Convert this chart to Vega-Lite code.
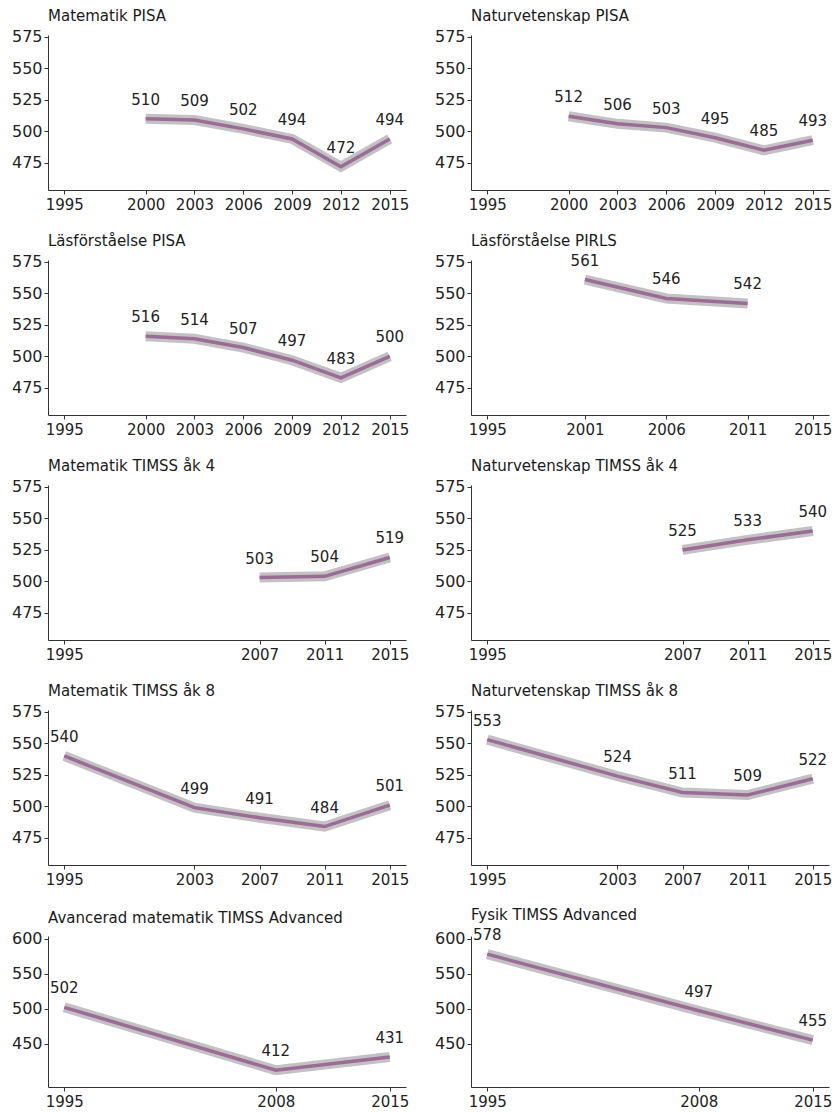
{
  "$schema": "https://vega.github.io/schema/vega-lite/v6.json",
  "padding": {"left": 11, "top": 8, "right": 4, "bottom": 2},
  "spacing": 21,
  "config": {
    "view": {"stroke": null},
    "font": "DejaVu Sans",
    "concat": {"spacing": 24},
    "axis": {"grid": false, "domainColor": "#333333", "tickColor": "#333333", "labelColor": "#222222", "labelFontSize": 15, "tickSize": 4, "title": null},
    "axisY": {"labelFontSize": 16, "labelPadding": 2},
    "axisX": {"labelPadding": 3},
    "title": {"anchor": "start", "frame": "group", "fontSize": 15, "fontWeight": "normal", "color": "#1a1a1a", "offset": 5, "baseline": "alphabetic"}
  },
  "datasets": {
    "scores": [
      {"panel": "Matematik PISA", "year": 2000, "score": 510},
      {"panel": "Matematik PISA", "year": 2003, "score": 509},
      {"panel": "Matematik PISA", "year": 2006, "score": 502},
      {"panel": "Matematik PISA", "year": 2009, "score": 494},
      {"panel": "Matematik PISA", "year": 2012, "score": 472},
      {"panel": "Matematik PISA", "year": 2015, "score": 494},
      {"panel": "Naturvetenskap PISA", "year": 2000, "score": 512},
      {"panel": "Naturvetenskap PISA", "year": 2003, "score": 506},
      {"panel": "Naturvetenskap PISA", "year": 2006, "score": 503},
      {"panel": "Naturvetenskap PISA", "year": 2009, "score": 495},
      {"panel": "Naturvetenskap PISA", "year": 2012, "score": 485},
      {"panel": "Naturvetenskap PISA", "year": 2015, "score": 493},
      {"panel": "Läsförståelse PISA", "year": 2000, "score": 516},
      {"panel": "Läsförståelse PISA", "year": 2003, "score": 514},
      {"panel": "Läsförståelse PISA", "year": 2006, "score": 507},
      {"panel": "Läsförståelse PISA", "year": 2009, "score": 497},
      {"panel": "Läsförståelse PISA", "year": 2012, "score": 483},
      {"panel": "Läsförståelse PISA", "year": 2015, "score": 500},
      {"panel": "Läsförståelse PIRLS", "year": 2001, "score": 561},
      {"panel": "Läsförståelse PIRLS", "year": 2006, "score": 546},
      {"panel": "Läsförståelse PIRLS", "year": 2011, "score": 542},
      {"panel": "Matematik TIMSS åk 4", "year": 2007, "score": 503},
      {"panel": "Matematik TIMSS åk 4", "year": 2011, "score": 504},
      {"panel": "Matematik TIMSS åk 4", "year": 2015, "score": 519},
      {"panel": "Naturvetenskap TIMSS åk 4", "year": 2007, "score": 525},
      {"panel": "Naturvetenskap TIMSS åk 4", "year": 2011, "score": 533},
      {"panel": "Naturvetenskap TIMSS åk 4", "year": 2015, "score": 540},
      {"panel": "Matematik TIMSS åk 8", "year": 1995, "score": 540},
      {"panel": "Matematik TIMSS åk 8", "year": 2003, "score": 499},
      {"panel": "Matematik TIMSS åk 8", "year": 2007, "score": 491},
      {"panel": "Matematik TIMSS åk 8", "year": 2011, "score": 484},
      {"panel": "Matematik TIMSS åk 8", "year": 2015, "score": 501},
      {"panel": "Naturvetenskap TIMSS åk 8", "year": 1995, "score": 553},
      {"panel": "Naturvetenskap TIMSS åk 8", "year": 2003, "score": 524},
      {"panel": "Naturvetenskap TIMSS åk 8", "year": 2007, "score": 511},
      {"panel": "Naturvetenskap TIMSS åk 8", "year": 2011, "score": 509},
      {"panel": "Naturvetenskap TIMSS åk 8", "year": 2015, "score": 522},
      {"panel": "Avancerad matematik TIMSS Advanced", "year": 1995, "score": 502},
      {"panel": "Avancerad matematik TIMSS Advanced", "year": 2008, "score": 412},
      {"panel": "Avancerad matematik TIMSS Advanced", "year": 2015, "score": 431},
      {"panel": "Fysik TIMSS Advanced", "year": 1995, "score": 578},
      {"panel": "Fysik TIMSS Advanced", "year": 2008, "score": 497},
      {"panel": "Fysik TIMSS Advanced", "year": 2015, "score": 455}
    ]
  },
  "vconcat": [
    {"hconcat": [
      {"title": "Matematik PISA", "width": 358, "height": 155, "data": {"name": "scores"},
       "transform": [{"filter": "datum.panel === 'Matematik PISA'"}],
       "encoding": {
         "x": {"field": "year", "type": "quantitative", "scale": {"domain": [1994, 2016], "nice": false, "zero": false}, "axis": {"values": [1995, 2000, 2003, 2006, 2009, 2012, 2015], "format": "d"}},
         "y": {"field": "score", "type": "quantitative", "scale": {"domain": [453.5, 576.5], "nice": false, "zero": false}, "axis": {"values": [475, 500, 525, 550, 575]}}},
       "layer": [
         {"mark": {"type": "line", "color": "#c2c2c2", "strokeWidth": 10}},
         {"mark": {"type": "line", "color": "#9d6b97", "strokeWidth": 3.5}},
         {"mark": {"type": "text", "dy": -14, "baseline": "alphabetic", "fontSize": 15, "color": "#222222"}, "encoding": {"text": {"field": "score", "type": "quantitative"}}}
       ]},
      {"title": "Naturvetenskap PISA", "width": 358, "height": 155, "data": {"name": "scores"},
       "transform": [{"filter": "datum.panel === 'Naturvetenskap PISA'"}],
       "encoding": {
         "x": {"field": "year", "type": "quantitative", "scale": {"domain": [1994, 2016], "nice": false, "zero": false}, "axis": {"values": [1995, 2000, 2003, 2006, 2009, 2012, 2015], "format": "d"}},
         "y": {"field": "score", "type": "quantitative", "scale": {"domain": [453.5, 576.5], "nice": false, "zero": false}, "axis": {"values": [475, 500, 525, 550, 575]}}},
       "layer": [
         {"mark": {"type": "line", "color": "#c2c2c2", "strokeWidth": 10}},
         {"mark": {"type": "line", "color": "#9d6b97", "strokeWidth": 3.5}},
         {"mark": {"type": "text", "dy": -14, "baseline": "alphabetic", "fontSize": 15, "color": "#222222"}, "encoding": {"text": {"field": "score", "type": "quantitative"}}}
       ]}
    ]},
    {"hconcat": [
      {"title": "Läsförståelse PISA", "width": 358, "height": 155, "data": {"name": "scores"},
       "transform": [{"filter": "datum.panel === 'Läsförståelse PISA'"}],
       "encoding": {
         "x": {"field": "year", "type": "quantitative", "scale": {"domain": [1994, 2016], "nice": false, "zero": false}, "axis": {"values": [1995, 2000, 2003, 2006, 2009, 2012, 2015], "format": "d"}},
         "y": {"field": "score", "type": "quantitative", "scale": {"domain": [453.5, 576.5], "nice": false, "zero": false}, "axis": {"values": [475, 500, 525, 550, 575]}}},
       "layer": [
         {"mark": {"type": "line", "color": "#c2c2c2", "strokeWidth": 10}},
         {"mark": {"type": "line", "color": "#9d6b97", "strokeWidth": 3.5}},
         {"mark": {"type": "text", "dy": -14, "baseline": "alphabetic", "fontSize": 15, "color": "#222222"}, "encoding": {"text": {"field": "score", "type": "quantitative"}}}
       ]},
      {"title": "Läsförståelse PIRLS", "width": 358, "height": 155, "data": {"name": "scores"},
       "transform": [{"filter": "datum.panel === 'Läsförståelse PIRLS'"}],
       "encoding": {
         "x": {"field": "year", "type": "quantitative", "scale": {"domain": [1994, 2016], "nice": false, "zero": false}, "axis": {"values": [1995, 2001, 2006, 2011, 2015], "format": "d"}},
         "y": {"field": "score", "type": "quantitative", "scale": {"domain": [453.5, 576.5], "nice": false, "zero": false}, "axis": {"values": [475, 500, 525, 550, 575]}}},
       "layer": [
         {"mark": {"type": "line", "color": "#c2c2c2", "strokeWidth": 10}},
         {"mark": {"type": "line", "color": "#9d6b97", "strokeWidth": 3.5}},
         {"mark": {"type": "text", "dy": -14, "baseline": "alphabetic", "fontSize": 15, "color": "#222222"}, "encoding": {"text": {"field": "score", "type": "quantitative"}}}
       ]}
    ]},
    {"hconcat": [
      {"title": "Matematik TIMSS åk 4", "width": 358, "height": 155, "data": {"name": "scores"},
       "transform": [{"filter": "datum.panel === 'Matematik TIMSS åk 4'"}],
       "encoding": {
         "x": {"field": "year", "type": "quantitative", "scale": {"domain": [1994, 2016], "nice": false, "zero": false}, "axis": {"values": [1995, 2007, 2011, 2015], "format": "d"}},
         "y": {"field": "score", "type": "quantitative", "scale": {"domain": [453.5, 576.5], "nice": false, "zero": false}, "axis": {"values": [475, 500, 525, 550, 575]}}},
       "layer": [
         {"mark": {"type": "line", "color": "#c2c2c2", "strokeWidth": 10}},
         {"mark": {"type": "line", "color": "#9d6b97", "strokeWidth": 3.5}},
         {"mark": {"type": "text", "dy": -14, "baseline": "alphabetic", "fontSize": 15, "color": "#222222"}, "encoding": {"text": {"field": "score", "type": "quantitative"}}}
       ]},
      {"title": "Naturvetenskap TIMSS åk 4", "width": 358, "height": 155, "data": {"name": "scores"},
       "transform": [{"filter": "datum.panel === 'Naturvetenskap TIMSS åk 4'"}],
       "encoding": {
         "x": {"field": "year", "type": "quantitative", "scale": {"domain": [1994, 2016], "nice": false, "zero": false}, "axis": {"values": [1995, 2007, 2011, 2015], "format": "d"}},
         "y": {"field": "score", "type": "quantitative", "scale": {"domain": [453.5, 576.5], "nice": false, "zero": false}, "axis": {"values": [475, 500, 525, 550, 575]}}},
       "layer": [
         {"mark": {"type": "line", "color": "#c2c2c2", "strokeWidth": 10}},
         {"mark": {"type": "line", "color": "#9d6b97", "strokeWidth": 3.5}},
         {"mark": {"type": "text", "dy": -14, "baseline": "alphabetic", "fontSize": 15, "color": "#222222"}, "encoding": {"text": {"field": "score", "type": "quantitative"}}}
       ]}
    ]},
    {"hconcat": [
      {"title": "Matematik TIMSS åk 8", "width": 358, "height": 155, "data": {"name": "scores"},
       "transform": [{"filter": "datum.panel === 'Matematik TIMSS åk 8'"}],
       "encoding": {
         "x": {"field": "year", "type": "quantitative", "scale": {"domain": [1994, 2016], "nice": false, "zero": false}, "axis": {"values": [1995, 2003, 2007, 2011, 2015], "format": "d"}},
         "y": {"field": "score", "type": "quantitative", "scale": {"domain": [453.5, 576.5], "nice": false, "zero": false}, "axis": {"values": [475, 500, 525, 550, 575]}}},
       "layer": [
         {"mark": {"type": "line", "color": "#c2c2c2", "strokeWidth": 10}},
         {"mark": {"type": "line", "color": "#9d6b97", "strokeWidth": 3.5}},
         {"mark": {"type": "text", "dy": -14, "baseline": "alphabetic", "fontSize": 15, "color": "#222222"}, "encoding": {"text": {"field": "score", "type": "quantitative"}}}
       ]},
      {"title": "Naturvetenskap TIMSS åk 8", "width": 358, "height": 155, "data": {"name": "scores"},
       "transform": [{"filter": "datum.panel === 'Naturvetenskap TIMSS åk 8'"}],
       "encoding": {
         "x": {"field": "year", "type": "quantitative", "scale": {"domain": [1994, 2016], "nice": false, "zero": false}, "axis": {"values": [1995, 2003, 2007, 2011, 2015], "format": "d"}},
         "y": {"field": "score", "type": "quantitative", "scale": {"domain": [453.5, 576.5], "nice": false, "zero": false}, "axis": {"values": [475, 500, 525, 550, 575]}}},
       "layer": [
         {"mark": {"type": "line", "color": "#c2c2c2", "strokeWidth": 10}},
         {"mark": {"type": "line", "color": "#9d6b97", "strokeWidth": 3.5}},
         {"mark": {"type": "text", "dy": -14, "baseline": "alphabetic", "fontSize": 15, "color": "#222222"}, "encoding": {"text": {"field": "score", "type": "quantitative"}}}
       ]}
    ]},
    {"hconcat": [
      {"title": "Avancerad matematik TIMSS Advanced", "width": 358, "height": 151, "data": {"name": "scores"},
       "transform": [{"filter": "datum.panel === 'Avancerad matematik TIMSS Advanced'"}],
       "encoding": {
         "x": {"field": "year", "type": "quantitative", "scale": {"domain": [1994, 2016], "nice": false, "zero": false}, "axis": {"values": [1995, 2008, 2015], "format": "d"}},
         "y": {"field": "score", "type": "quantitative", "scale": {"domain": [388, 604], "nice": false, "zero": false}, "axis": {"values": [450, 500, 550, 600]}}},
       "layer": [
         {"mark": {"type": "line", "color": "#c2c2c2", "strokeWidth": 10}},
         {"mark": {"type": "line", "color": "#9d6b97", "strokeWidth": 3.5}},
         {"mark": {"type": "text", "dy": -14, "baseline": "alphabetic", "fontSize": 15, "color": "#222222"}, "encoding": {"text": {"field": "score", "type": "quantitative"}}}
       ]},
      {"title": "Fysik TIMSS Advanced", "width": 358, "height": 151, "data": {"name": "scores"},
       "transform": [{"filter": "datum.panel === 'Fysik TIMSS Advanced'"}],
       "encoding": {
         "x": {"field": "year", "type": "quantitative", "scale": {"domain": [1994, 2016], "nice": false, "zero": false}, "axis": {"values": [1995, 2008, 2015], "format": "d"}},
         "y": {"field": "score", "type": "quantitative", "scale": {"domain": [388, 604], "nice": false, "zero": false}, "axis": {"values": [450, 500, 550, 600]}}},
       "layer": [
         {"mark": {"type": "line", "color": "#c2c2c2", "strokeWidth": 10}},
         {"mark": {"type": "line", "color": "#9d6b97", "strokeWidth": 3.5}},
         {"mark": {"type": "text", "dy": -14, "baseline": "alphabetic", "fontSize": 15, "color": "#222222"}, "encoding": {"text": {"field": "score", "type": "quantitative"}}}
       ]}
    ]}
  ]
}
